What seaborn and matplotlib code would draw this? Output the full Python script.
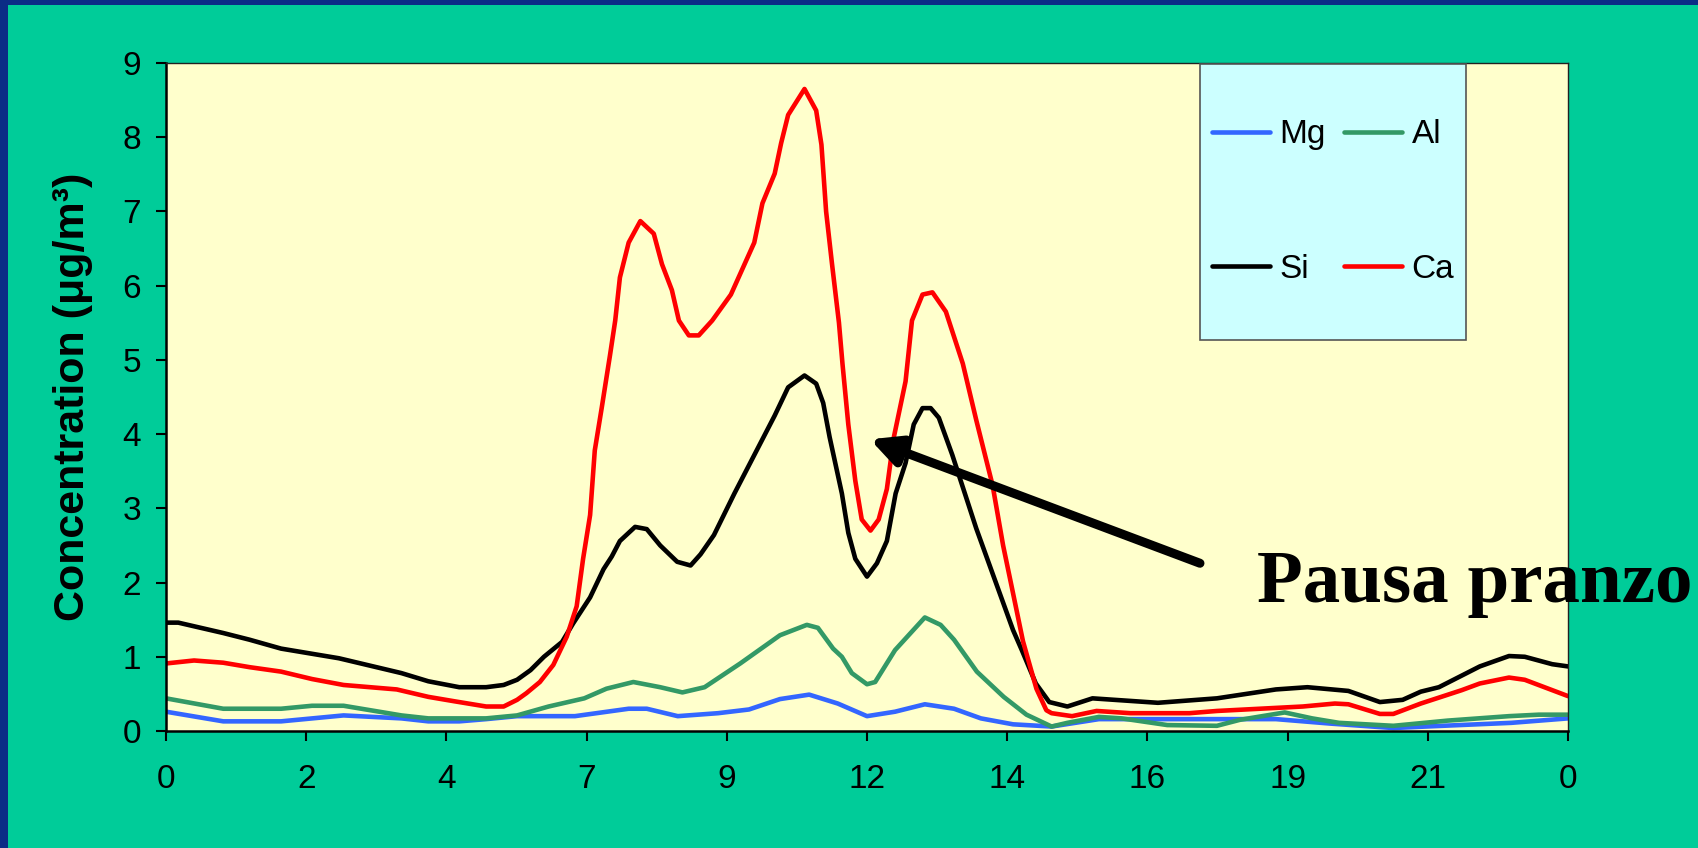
import matplotlib
matplotlib.use("Agg")
import matplotlib.pyplot as plt
from matplotlib.patches import Rectangle
import numpy as np
import pandas as pd
import seaborn as sns

# hours of day (0-24) and concentrations, ug/m3
mg_hours = [0, 0.98, 1.97, 3.04, 4.03, 4.49, 5.02, 5.48, 6.01, 7.0, 7.92, 8.23, 8.76,
            9.45, 9.98, 10.51, 11.01, 11.5, 12.0, 12.48, 12.99, 13.49, 13.95, 14.5,
            15.16, 15.97, 16.98, 19.0, 19.93, 21.01, 21.56, 23.03, 24.0]
mg_conc = [0.26, 0.13, 0.13, 0.21, 0.17, 0.13, 0.13, 0.16, 0.20, 0.20, 0.30, 0.30, 0.20,
           0.24, 0.29, 0.43, 0.49, 0.37, 0.20, 0.26, 0.36, 0.30, 0.17, 0.09,
           0.06, 0.16, 0.16, 0.16, 0.10, 0.04, 0.06, 0.11, 0.17]

al_hours = [0, 0.98, 1.97, 2.5, 3.04, 4.03, 4.49, 5.48, 6.01, 6.55, 7.16, 7.54, 8.0,
            8.46, 8.84, 9.22, 9.83, 10.51, 10.97, 11.16, 11.42, 11.57, 11.74, 12.0,
            12.14, 12.48, 12.99, 13.26, 13.49, 13.88, 14.34, 14.73, 15.16, 15.43,
            15.97, 16.36, 17.14, 17.99, 18.38, 19.15, 19.62, 20.08, 21.01, 21.94,
            22.99, 23.5, 24.0]
al_conc = [0.44, 0.30, 0.30, 0.34, 0.34, 0.21, 0.17, 0.17, 0.21, 0.33, 0.44, 0.57, 0.66,
           0.59, 0.52, 0.59, 0.91, 1.29, 1.43, 1.39, 1.11, 1.00, 0.78, 0.63,
           0.66, 1.09, 1.53, 1.43, 1.23, 0.80, 0.46, 0.22, 0.06, 0.11,
           0.19, 0.17, 0.08, 0.07, 0.15, 0.25, 0.17, 0.11, 0.07, 0.14,
           0.20, 0.22, 0.22]

si_hours = [0, 0.21, 0.98, 1.43, 1.97, 2.96, 4.03, 4.49, 5.02, 5.48, 5.78, 6.01, 6.24,
            6.47, 6.78, 6.97, 7.26, 7.49, 7.63, 7.77, 8.03, 8.23, 8.46, 8.75, 8.98,
            9.15, 9.38, 9.73, 9.96, 10.19, 10.42, 10.65, 10.93, 11.13, 11.25, 11.36,
            11.57, 11.68, 11.8, 12.0, 12.17, 12.34, 12.49, 12.66, 12.8, 12.95, 13.09,
            13.23, 13.46, 13.87, 14.27, 14.5, 14.65, 14.89, 15.12, 15.43, 15.86,
            16.98, 17.99, 19.0, 19.54, 20.24, 20.78, 21.17, 21.48, 21.79, 22.49,
            22.99, 23.26, 23.73, 24.0]
si_conc = [1.46, 1.46, 1.32, 1.23, 1.11, 0.98, 0.78, 0.67, 0.59, 0.59, 0.62, 0.69, 0.82,
           1.00, 1.20, 1.45, 1.80, 2.18, 2.35, 2.56, 2.75, 2.72, 2.50, 2.28, 2.23,
           2.38, 2.64, 3.20, 3.55, 3.90, 4.25, 4.63, 4.79, 4.68, 4.42, 3.96,
           3.20, 2.67, 2.32, 2.08, 2.26, 2.56, 3.20, 3.61, 4.13, 4.35, 4.35,
           4.22, 3.72, 2.73, 1.86, 1.36, 1.09, 0.64, 0.39, 0.33, 0.44,
           0.38, 0.44, 0.56, 0.59, 0.54, 0.39, 0.42, 0.53, 0.59, 0.87,
           1.01, 1.00, 0.90, 0.87]

ca_hours = [0, 0.48, 0.98, 1.43, 1.97, 2.5, 3.04, 3.95, 4.49, 4.94, 5.48, 5.78, 6.01,
            6.17, 6.4, 6.63, 6.86, 7.03, 7.14, 7.26, 7.34, 7.46, 7.6, 7.69, 7.77,
            7.92, 8.12, 8.35, 8.49, 8.66, 8.78, 8.95, 9.12, 9.35, 9.67, 10.07, 10.21,
            10.42, 10.53, 10.65, 10.93, 11.13, 11.22, 11.3, 11.4, 11.52, 11.58,
            11.68, 11.8, 11.91, 12.06, 12.2, 12.34, 12.46, 12.66, 12.77, 12.95,
            13.12, 13.35, 13.64, 13.87, 14.15, 14.33, 14.47, 14.67, 14.9, 15.07,
            15.16, 15.51, 15.93, 16.51, 17.52, 17.99, 19.46, 20.01, 20.24, 20.78,
            21.01, 21.48, 22.18, 22.49, 22.99, 23.26, 24.0]
ca_conc = [0.91, 0.95, 0.92, 0.86, 0.80, 0.70, 0.62, 0.56, 0.46, 0.40, 0.33, 0.33, 0.42,
           0.51, 0.66, 0.89, 1.27, 1.68, 2.32, 2.91, 3.78, 4.36, 5.06, 5.53, 6.11,
           6.58, 6.87, 6.70, 6.29, 5.94, 5.53, 5.33, 5.33, 5.53, 5.88, 6.58, 7.11,
           7.51, 7.92, 8.30, 8.65, 8.36, 7.90, 7.00, 6.30, 5.50, 4.95,
           4.13, 3.37, 2.85, 2.70, 2.85, 3.26, 3.96, 4.71, 5.53, 5.88,
           5.91, 5.65, 4.95, 4.19, 3.31, 2.50, 1.97, 1.21, 0.57, 0.28,
           0.24, 0.20, 0.27, 0.24, 0.24, 0.27, 0.33, 0.37, 0.36, 0.23,
           0.23, 0.37, 0.55, 0.64, 0.72, 0.69, 0.47]

elements = ["Mg", "Al", "Si", "Ca"]
colors = {"Mg": "#3366FF", "Al": "#339966", "Si": "#000000", "Ca": "#FF0000"}
tick_hours = [0, 2.4, 4.8, 7.2, 9.6, 12, 14.4, 16.8, 19.2, 21.6, 24]
tick_labels = ["0", "2", "4", "7", "9", "12", "14", "16", "19", "21", "0"]

frames = []
for name, hrs, conc in [("Mg", mg_hours, mg_conc), ("Al", al_hours, al_conc),
                        ("Si", si_hours, si_conc), ("Ca", ca_hours, ca_conc)]:
    frames.append(pd.DataFrame({"hour": hrs, "conc": conc, "element": name}))
df = pd.concat(frames, ignore_index=True)

sns.set_style("ticks")
plt.rcParams["font.family"] = ["Liberation Sans", "DejaVu Sans"]
plt.rcParams["text.color"] = "black"
plt.rcParams["axes.labelcolor"] = "black"
plt.rcParams["xtick.color"] = "black"
plt.rcParams["ytick.color"] = "black"

W, H = 1698, 848
fig = plt.figure(figsize=(W / 100, H / 100), dpi=100)
fig.patch.set_facecolor("#00CC99")
# slide frame strips
fig.patches.append(Rectangle((0, 0), 8 / W, 1, transform=fig.transFigure,
                             facecolor="#0B2C86", edgecolor="none", zorder=0))
fig.patches.append(Rectangle((0, 1 - 5 / H), 1, 5 / H, transform=fig.transFigure,
                             facecolor="#0B2C86", edgecolor="none", zorder=0))

ax = fig.add_axes([166 / W, 1 - 731 / H, (1568 - 166) / W, (731 - 63) / H])
ax.set_facecolor("#FFFFCC")

sns.lineplot(data=df, x="hour", y="conc", hue="element", hue_order=elements,
             palette=colors, estimator=None, sort=True, linewidth=3.3, ax=ax)

ax.set_xlim(0, 24)
ax.set_ylim(0, 9)
ax.set_xticks(tick_hours)
ax.set_xticklabels(tick_labels)
ax.set_yticks(range(0, 10))
ax.tick_params(axis="both", direction="out", length=7, width=1.5, colors="black",
               labelsize=24)
ax.tick_params(axis="x", pad=17)
ax.tick_params(axis="y", pad=11)
ax.set_xlabel("")
ax.set_ylabel("Concentration (\u03bcg/m\u00b3)", fontsize=31, fontweight="bold",
              va="center", color="black")
ax.yaxis.set_label_coords(-0.066, 0.5)
for side in ["left", "bottom"]:
    ax.spines[side].set_linewidth(1.8)
    ax.spines[side].set_color("black")
for side in ["top", "right"]:
    ax.spines[side].set_linewidth(1.0)
    ax.spines[side].set_color("#222222")

# legend box
handles, labels = ax.get_legend_handles_labels()
ax.get_legend().remove()
lut = dict(zip(labels, handles))
order = ["Mg", "Si", "Al", "Ca"]
x0, x1 = (1200 - 166) / 1402, (1466 - 166) / 1402
y0, y1 = (731 - 340) / 668, (731 - 64) / 668
ax.add_patch(Rectangle((x0, y0), x1 - x0, y1 - y0, transform=ax.transAxes,
                       facecolor="#CCFFFF", edgecolor="#555555", lw=1.2, zorder=4))
leg = ax.legend([lut[k] for k in order], order, ncol=2, loc="center",
                bbox_to_anchor=((x0 + x1) / 2, (y0 + y1) / 2), frameon=False,
                fontsize=24, handlelength=1.75, handletextpad=0.28,
                columnspacing=0.55, labelspacing=3.1, borderpad=0.2)
leg.set_zorder(5)
for ln in leg.get_lines():
    ln.set_linewidth(3.3)
for t in leg.get_texts():
    t.set_color("black")

# annotation
ax.annotate("", xy=(12.05, 3.93), xytext=(17.7, 2.26),
            arrowprops=dict(arrowstyle="-|>", lw=6.5, color="black",
                            mutation_scale=44, shrinkA=0, shrinkB=0))
fig.text(1257 / W, 1 - 602 / H, "Pausa pranzo", fontsize=54, fontweight="bold",
         color="black", family=["Liberation Serif", "DejaVu Serif"],
         va="baseline", ha="left")

fig.savefig("out.png", dpi=100, facecolor=fig.get_facecolor())
